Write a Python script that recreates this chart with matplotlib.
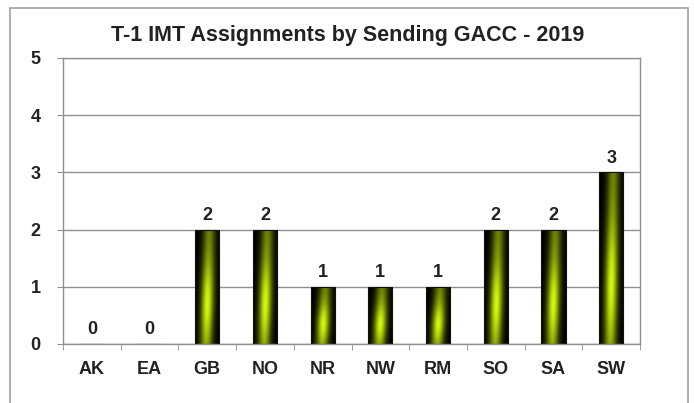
import numpy as np
import matplotlib.pyplot as plt
from matplotlib.patches import Rectangle

gaccs = ["AK", "EA", "GB", "NO", "NR", "NW", "RM", "SO", "SA", "SW"]
assignments = [0, 0, 2, 2, 1, 1, 1, 2, 2, 3]
title = "T-1 IMT Assignments by Sending GACC - 2019"

plt.rcParams["font.family"] = ["Liberation Sans", "DejaVu Sans"]

fig = plt.figure(figsize=(6.94, 4.03), dpi=100)
ax = fig.add_axes([63 / 694, 59 / 403, 577 / 694, 286 / 403])

# outer chart frame
fig.patches.append(Rectangle((10 / 694, -0.1), 678 / 694, 1.1 - 8 / 403,
                             transform=fig.transFigure, fill=False,
                             edgecolor="#a0a0a0", linewidth=1.2))

# gradient image used for each bar
xs = np.linspace(-1, 1, 60)
ys = np.linspace(0, 1, 120)
X, Y = np.meshgrid(xs, ys)
shift = X - 0.25 * (Y - 0.4)
inten = np.exp(-(shift / 0.5) ** 2) * (0.5 + 0.5 * np.exp(-((Y - 0.35) / 0.35) ** 2))
inten = np.clip(inten, 0, 1)
grad = np.dstack([inten * 0.82, inten * 0.98, inten * 0.05])

x = np.arange(len(gaccs))
width = 0.42
bars = ax.bar(x, assignments, width=width, facecolor="none", edgecolor="#111111",
              linewidth=0.8, zorder=3)
for rect, val in zip(bars, assignments):
    if val > 0:
        x0 = rect.get_x()
        im = ax.imshow(grad, extent=[x0, x0 + width, 0, val], origin="lower",
                       aspect="auto", zorder=2, interpolation="bilinear")
        im.set_clip_path(rect)
    ax.text(rect.get_x() + width / 2, val + 0.1, str(val), ha="center", va="bottom",
            fontsize=13, fontweight="bold", color="#222222")

ax.set_xlim(-0.5, len(gaccs) - 0.5)
ax.set_ylim(0, 5)
ax.set_yticks(range(0, 6))
ax.set_xticks(x)
ax.set_xticklabels(gaccs, fontsize=13, fontweight="bold", color="#222222")
ax.tick_params(axis="x", length=0, pad=12)
ax.set_xticks(np.arange(-0.5, len(gaccs), 1), minor=True)
ax.tick_params(axis="x", which="minor", length=4, color="#909090", direction="out")
ax.tick_params(axis="y", length=4, color="#909090", pad=12, labelsize=13,
               labelcolor="#222222")
for lab in ax.get_yticklabels():
    lab.set_fontweight("bold")
ax.yaxis.grid(True, color="#909090", linewidth=1.0)
ax.set_axisbelow(True)
for s in ax.spines.values():
    s.set_color("#909090")
    s.set_linewidth(1.0)

fig.text(348 / 694, 1 - 36 / 403, title, ha="center", va="center",
         fontsize=15.5, fontweight="bold", color="#222222")

fig.savefig("out.png", dpi=100)
